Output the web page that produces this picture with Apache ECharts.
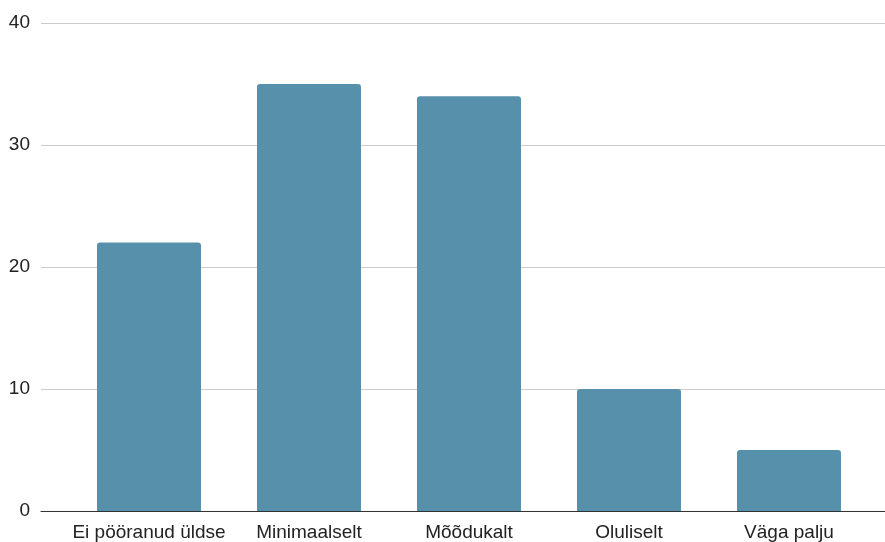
<!DOCTYPE html>
<html>
<head>
<meta charset="utf-8">
<script src="https://cdn.jsdelivr.net/npm/echarts@6/dist/echarts.min.js"></script>
<style>
  html, body { margin: 0; padding: 0; background: #fff; }
  #chart { width: 885px; height: 542px; }
</style>
</head>
<body>
<div id="chart"></div>
<script>
// Answer categories and counts
const categories = ['Ei pööranud üldse', 'Minimaalselt', 'Mõõdukalt', 'Oluliselt', 'Väga palju'];
const counts = [22, 35, 34, 10, 5];
const yTicks = { min: 0, max: 40, step: 10 };

const font = 'Liberation Sans, Arial, sans-serif';
const chart = echarts.init(document.getElementById('chart'));
chart.setOption({
  animation: false,
  textStyle: { fontFamily: font },
  // grid 0: full-width frame carrying the value axis, gridlines and baseline
  // grid 1: inset band where the category bars sit
  grid: [
    { left: 41, right: 0, top: 23, bottom: 31, containLabel: false },
    { left: 69, right: 16, top: 23, bottom: 31, containLabel: false }
  ],
  xAxis: [
    {
      gridIndex: 0,
      type: 'category',
      data: [''],
      axisTick: { show: false },
      axisLabel: { show: false },
      axisLine: { lineStyle: { color: '#333', width: 1 } }
    },
    {
      gridIndex: 1,
      type: 'category',
      data: categories,
      axisTick: { show: false },
      axisLine: { show: false },
      axisLabel: { interval: 0, color: '#222', fontSize: 19, margin: 12, fontFamily: font }
    }
  ],
  yAxis: [
    {
      gridIndex: 0,
      type: 'value',
      min: yTicks.min,
      max: yTicks.max,
      interval: yTicks.step,
      axisLine: { show: false },
      axisTick: { show: false },
      axisLabel: { color: '#222', fontSize: 19, margin: 11, fontFamily: font },
      splitLine: { lineStyle: { color: '#ccc', width: 1 } }
    },
    {
      gridIndex: 1,
      type: 'value',
      min: yTicks.min,
      max: yTicks.max,
      interval: yTicks.step,
      show: false,
      splitLine: { show: false }
    }
  ],
  series: [{
    type: 'bar',
    xAxisIndex: 1,
    yAxisIndex: 1,
    data: counts,
    barWidth: '65%',
    itemStyle: { color: '#5790ab', borderRadius: [3, 3, 0, 0] },
    z: 1
  }]
});
</script>
</body>
</html>
